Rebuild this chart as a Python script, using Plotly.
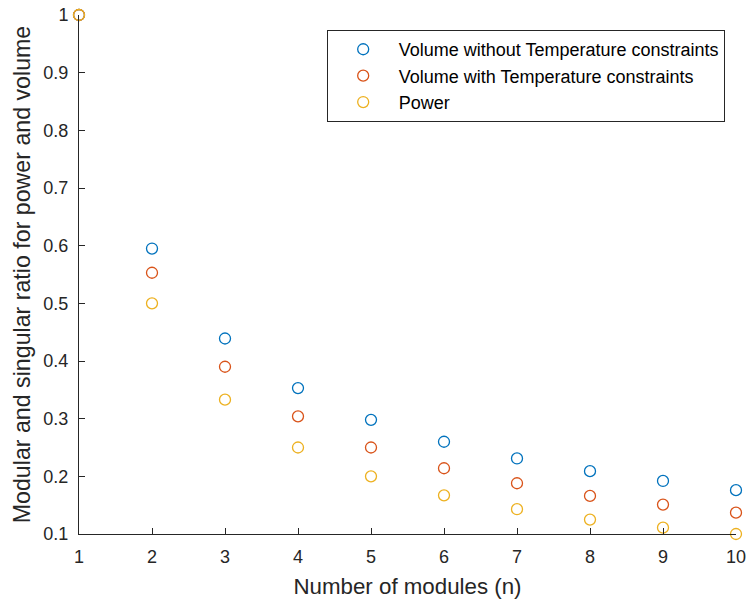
import plotly.graph_objects as go

n_modules = [1, 2, 3, 4, 5, 6, 7, 8, 9, 10]
vol_without_temp = [1.0, 0.595, 0.439, 0.353, 0.298, 0.260, 0.231, 0.209, 0.192, 0.176]
vol_with_temp = [1.0, 0.553, 0.390, 0.304, 0.250, 0.214, 0.188, 0.166, 0.151, 0.137]
power = [1.0, 0.5, 0.333, 0.25, 0.2, 0.167, 0.143, 0.125, 0.111, 0.1]

series_names = ["Volume without Temperature constraints",
                "Volume with Temperature constraints",
                "Power"]
colors = ["#0072BD", "#D95319", "#EDB120"]
x_ticks = [1, 2, 3, 4, 5, 6, 7, 8, 9, 10]
y_ticks = [0.1, 0.2, 0.3, 0.4, 0.5, 0.6, 0.7, 0.8, 0.9, 1.0]
y_tick_text = ["0.1", "0.2", "0.3", "0.4", "0.5", "0.6", "0.7", "0.8", "0.9", "1"]

fig = go.Figure()
for name, vals, c in zip(series_names, [vol_without_temp, vol_with_temp, power], colors):
    fig.add_trace(go.Scatter(
        x=n_modules, y=vals, mode="markers", name=name, cliponaxis=False,
        marker=dict(symbol="circle-open", size=11, color=c, line=dict(width=1.3, color=c)),
    ))

font_fam = "Liberation Sans, Arial, sans-serif"
fig.update_layout(
    width=746, height=603,
    margin=dict(l=79, r=10, t=15, b=69, autoexpand=False),
    paper_bgcolor="white", plot_bgcolor="white",
    font=dict(family=font_fam, size=18, color="#262626"),
    showlegend=True,
    legend=dict(
        x=0.377, y=0.971, xanchor="left", yanchor="top",
        bordercolor="#262626", borderwidth=1, bgcolor="white",
        font=dict(size=18, color="#000000"),
        itemwidth=61, tracegroupgap=0,
    ),
)
fig.update_xaxes(
    range=[1, 10], tickvals=x_ticks, ticks="inside", ticklen=6, tickwidth=1,
    tickcolor="#262626", showline=True, linecolor="#262626", linewidth=1,
    showgrid=False, zeroline=False, tickfont=dict(size=18, color="#262626"),
    ticklabelstandoff=6, ticklabeloverflow="allow",
    title=dict(text="Number of modules (n)", font=dict(size=22.3, color="#262626"), standoff=12),
    automargin=False,
)
fig.update_yaxes(
    range=[0.1, 1], tickvals=y_ticks, ticktext=y_tick_text, ticks="inside", ticklen=6, tickwidth=1,
    tickcolor="#262626", showline=True, linecolor="#262626", linewidth=1,
    showgrid=False, zeroline=False, tickfont=dict(size=18, color="#262626"),
    ticklabelstandoff=6,
    title=dict(text="Modular and singular ratio for power and volume", font=dict(size=23.2, color="#262626"), standoff=6),
    automargin=False,
)

fig.write_html("out.html")
